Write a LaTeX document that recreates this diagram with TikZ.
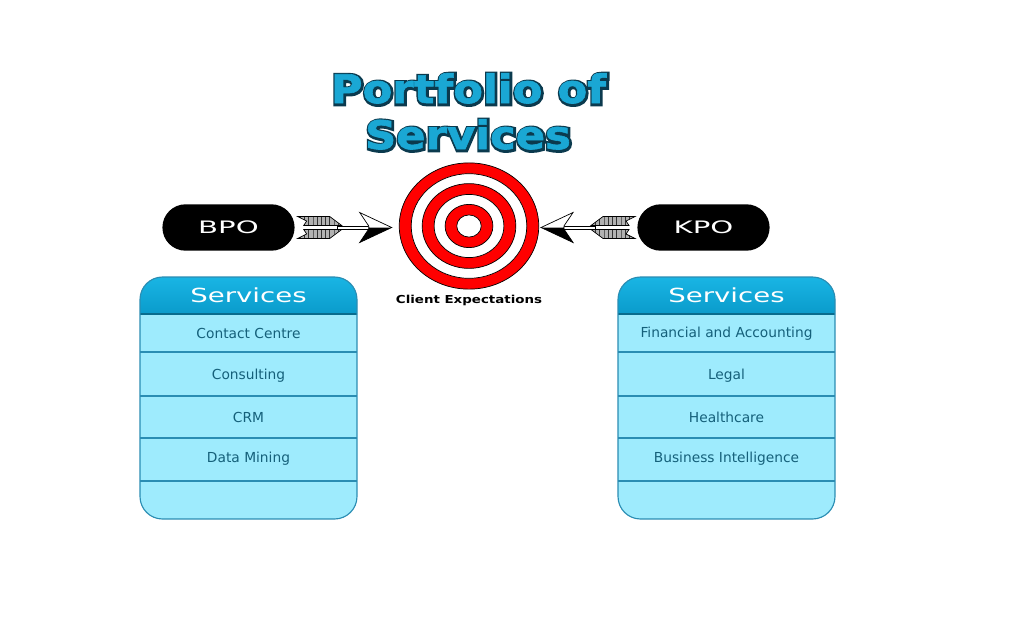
\documentclass[tikz,border=0pt]{standalone}
\usepackage{fontspec}
\setmainfont{DejaVu Sans}
\newfontfamily\titlefill[FakeStretch=1.1, FakeBold=1.5]{DejaVu Sans Bold}
\newfontfamily\titleedge[FakeStretch=1.1, FakeBold=12]{DejaVu Sans Bold}
\newfontfamily\headfont[FakeStretch=1.42]{DejaVu Sans}
\newfontfamily\pillfont[FakeStretch=1.7]{DejaVu Sans}
\newfontfamily\capfont[FakeStretch=1.22]{DejaVu Sans}
\usetikzlibrary{positioning,calc,shapes.misc,shapes.geometric,patterns}

\definecolor{titleblue}{HTML}{1AA7D4}
\definecolor{titledark}{HTML}{0B3A4E}
\definecolor{headtop}{HTML}{19B5E4}
\definecolor{headbot}{HTML}{0A9BCB}
\definecolor{rowcyan}{HTML}{9EEBFD}
\definecolor{rowline}{HTML}{2A8DB3}
\definecolor{rowtext}{HTML}{15607A}
\definecolor{ringred}{HTML}{FF0000}

\tikzset{
  titletext/.style={anchor=base, inner sep=0pt, font=\fontsize{28}{30}\selectfont},
  pill/.style={rounded rectangle, fill=black, text=white, minimum width=94pt, minimum height=33pt,
    inner sep=0pt, font=\pillfont\fontsize{12.2}{13}\selectfont},
  headlabel/.style={text=white, inner sep=0pt, font=\headfont\fontsize{13.8}{15}\selectfont},
  rowlabel/.style={text=rowtext, inner sep=0pt, font=\fontsize{9.8}{11}\selectfont},
  dart/.pic={
    % fletching
    \draw[line width=0.5pt, preaction={fill=gray!60}, pattern=vertical lines, pattern color=black!80]
      (0,-11) -- (32,-11) -- (44,-2) -- (6,-2) -- (9,-6.5) -- cycle;
    \draw[line width=0.5pt, preaction={fill=gray!60}, pattern=vertical lines, pattern color=black!80]
      (0,11) -- (32,11) -- (44,2) -- (6,2) -- (9,6.5) -- cycle;
    % shaft
    \draw[fill=white, line width=0.5pt] (40,-1.6) rectangle (72,1.6);
    % head
    \fill[white] (94,0) -- (62,-15) -- (71,-1.6) -- (71,0) -- cycle;
    \fill[black] (94,0) -- (71,0) -- (71,1.6) -- (62,15) -- cycle;
    \draw[line width=0.5pt, line join=miter] (94,0) -- (62,-15) -- (71,-1.6) -- (71,1.6) -- (62,15) -- cycle;
  }
}

% one column of services: centre x, name, item/y list
\newcommand\servicecol[3]{
  \begin{scope}
    \clip[rounded corners=16pt] ({#1-108.5},277) rectangle ({#1+108.5},519);
    \fill[rowcyan] ({#1-108.5},277) rectangle ({#1+108.5},519);
    \shade[top color=headtop, bottom color=headbot] ({#1-108.5},277) rectangle ({#1+108.5},314);
  \end{scope}
  \draw[headbot!70!black, line width=1.2pt] ({#1-108.5},314) -- ({#1+108.5},314);
  \foreach \y in {352,396,438,481}
    \draw[rowline, line width=0.8pt] ({#1-108.5},\y) -- ({#1+108.5},\y);
  \draw[rowline, line width=0.8pt, rounded corners=16pt] ({#1-108.5},277) rectangle ({#1+108.5},519);
  \node[headlabel] (#2head) at (#1,295.5) {Services};
  \foreach \t/\y [count=\i] in {#3}
    \node[rowlabel] (#2row\i) at (#1,\y) {\t};
}

\begin{document}
\begin{tikzpicture}[x=0.025cm, y=-0.025cm]
\useasboundingbox (0,0) rectangle (1024,640);
\fill[white] (0,0) rectangle (1024,640);

% title, dark edge under the blue letters
\coordinate (tl1) at (468.5,103);
\coordinate (tl2) at (468,149);
\node[titletext, text=titledark] at ($(tl1)+(0.8,1)$) {\titleedge Portfolio of};
\node[titletext, text=titledark] at ($(tl2)+(0.8,1)$) {\titleedge Services};
\node[titletext, text=titleblue] (title) at (tl1) {\titlefill Portfolio of};
\node[titletext, text=titleblue] (title2) at (tl2) {\titlefill Services};

% target
\node[ellipse, minimum width=99.2pt, minimum height=90pt, inner sep=0pt] (target) at (469,226) {};
\foreach \r/\c in {49.6/ringred, 41.1/white, 33.3/ringred, 24.8/white, 17/ringred, 8.7/white}
  \filldraw[fill=\c, draw=black, line width=0.5pt] (target.center) ellipse [x radius=\r pt, y radius=0.905*\r pt];
\node[below=4pt of target, inner sep=0pt, font=\capfont\bfseries\fontsize{7.8}{9}\selectfont] (client) {Client Expectations};

% outsourcing types
\node[pill] (bpo) at (228.5,227.5) {BPO};
\node[pill] (kpo) at (703.5,227.5) {KPO};
\pic at ([xshift=2pt]bpo.east) {dart};
\pic[xscale=-1] at ([xshift=-1.5pt]kpo.west) {dart};

% services
\servicecol{248.5}{bpo}{Contact Centre/333.5, Consulting/375.5, CRM/417, Data Mining/459}
\servicecol{726.5}{kpo}{Financial and Accounting/333.5, Legal/375.5, Healthcare/417, Business Intelligence/459}
\end{tikzpicture}
\end{document}
